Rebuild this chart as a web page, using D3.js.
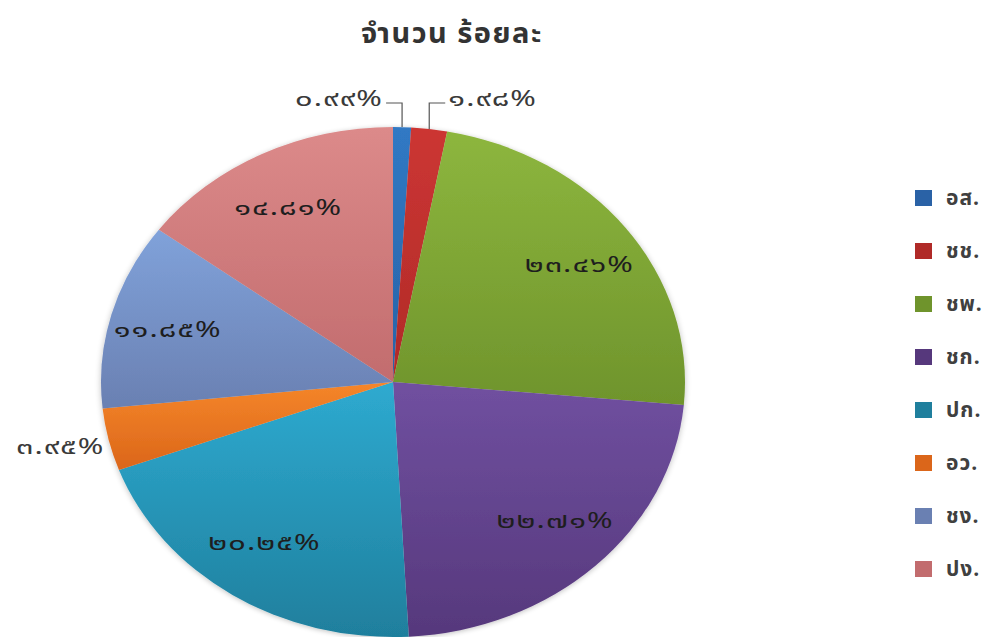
<!DOCTYPE html>
<html lang="th">
<head>
<meta charset="utf-8">
<script src="https://cdn.jsdelivr.net/npm/d3@7"></script>
<style>
  html, body { margin: 0; padding: 0; background: #ffffff; }
  svg { display: block; }
  text { font-family: "Noto Sans Thai", "Tahoma", "DejaVu Sans", "Noto Sans", sans-serif; }
</style>
</head>
<body>
<svg id="chart" width="993" height="637"></svg>
<script>
// Share of each group, in percent
const categories = ["อส.", "ชช.", "ชพ.", "ชก.", "ปก.", "อว.", "ชง.", "ปง."];
const values = [0.99, 1.98, 23.46, 22.71, 20.25, 3.95, 11.85, 14.81];
// Slice fill: light (top) and dark (bottom) stop of each gradient
const colorsTop = ["#3079c4", "#cc3633", "#8db63e", "#7050a0", "#2eaad0", "#f5862a", "#80a2da", "#dc8a8a"];
const colorsBottom = ["#2a62a6", "#b02a28", "#6f942c", "#56387c", "#1f7f9d", "#db661a", "#6a80b2", "#c26c6e"];
const titleText = "จำนวน ร้อยละ";

const thaiDigits = ["๐", "๑", "๒", "๓", "๔", "๕", "๖", "๗", "๘", "๙"];
const toThai = s => s.replace(/[0-9]/g, d => thaiDigits[+d]);
const fmt = v => toThai(v.toFixed(2)) + "%";

const svg = d3.select("#chart");
const cx = 393, cy = 382, rx = 292, ry = 255;
const yScale = ry / rx;
const widen = 1.4; // horizontal stretch of the value labels

const defs = svg.append("defs");
categories.forEach((c, i) => {
  const g = defs.append("linearGradient")
    .attr("id", "grad" + i)
    .attr("x1", 0).attr("y1", 0).attr("x2", 0).attr("y2", 1);
  g.append("stop").attr("offset", "0%").attr("stop-color", colorsTop[i]);
  g.append("stop").attr("offset", "100%").attr("stop-color", colorsBottom[i]);
});
const shadow = defs.append("filter").attr("id", "soft")
  .attr("x", "-10%").attr("y", "-10%").attr("width", "120%").attr("height", "120%");
shadow.append("feGaussianBlur").attr("in", "SourceAlpha").attr("stdDeviation", 3).attr("result", "b");
shadow.append("feOffset").attr("in", "b").attr("dx", 0).attr("dy", 1).attr("result", "o");
shadow.append("feComponentTransfer").attr("in", "o").attr("result", "s")
  .append("feFuncA").attr("type", "linear").attr("slope", 0.25);
const merge = shadow.append("feMerge");
merge.append("feMergeNode").attr("in", "s");
merge.append("feMergeNode").attr("in", "SourceGraphic");

// Title
svg.append("text")
  .attr("x", 452).attr("y", 43)
  .attr("text-anchor", "middle")
  .attr("font-size", 29).attr("font-weight", "bold")
  .attr("letter-spacing", 1.5)
  .attr("fill", "#333333")
  .text(titleText);

// Pie (drawn on a circle, squashed vertically into an ellipse)
const pie = d3.pie().sort(null).value(d => d);
const arcs = pie(values);
const arc = d3.arc().innerRadius(0).outerRadius(rx);

const pieG = svg.append("g")
  .attr("transform", `translate(${cx},${cy}) scale(1,${yScale})`)
  .attr("filter", "url(#soft)");
pieG.selectAll("path")
  .data(arcs)
  .join("path")
  .attr("d", arc)
  .attr("fill", (d, i) => `url(#grad${i})`);

// Point on the ellipse at a given angle and relative radii
const pt = (a, kx, ky) => [cx + kx * rx * Math.sin(a), cy - ky * ry * Math.cos(a)];
const mid = d => (d.startAngle + d.endAngle) / 2;

const labelG = svg.append("g").attr("font-size", 22).attr("letter-spacing", 0.8);

function valueLabel(x, y, anchor, fill, str) {
  labelG.append("text")
    .attr("transform", `translate(${x},${y}) scale(${widen},1)`)
    .attr("text-anchor", anchor)
    .attr("dominant-baseline", "central")
    .attr("fill", fill)
    .text(str);
}

arcs.forEach((d, i) => {
  const share = d.value;
  const m = mid(d);
  if (share >= 10) {
    const [x, y] = pt(m, 0.8, 0.76);
    valueLabel(x, y, "middle", "#1e1e1e", fmt(share));
  } else if (Math.sin(m) < -0.5) {
    // side label, just outside the rim
    const [x, y] = pt(m, 1.0, 1.0);
    valueLabel(x - 4, y + 8, "end", "#3a3a3a", fmt(share));
  } else {
    // thin slices at the top: elbow leader up to a label row
    const [x0, y0] = pt(m, 1.0, 1.0);
    const yRow = cy - ry - 24;
    const right = i > 0;
    const x2 = right ? x0 + 16 : x0 - 16;
    labelG.append("path")
      .attr("d", `M${x0},${y0}L${x0},${yRow}L${x2},${yRow}`)
      .attr("fill", "none")
      .attr("stroke", "#555555")
      .attr("stroke-width", 1.2);
    valueLabel(right ? x2 + 3 : x2 - 3, yRow - 4, right ? "start" : "end", "#3a3a3a", fmt(share));
  }
});

// Legend
const legend = svg.append("g").attr("transform", "translate(915,198)");
const rows = legend.selectAll("g")
  .data(categories)
  .join("g")
  .attr("transform", (d, i) => `translate(0,${i * 53})`);
rows.append("rect")
  .attr("x", 0).attr("y", -8).attr("width", 17).attr("height", 16)
  .attr("fill", (d, i) => colorsBottom[i]);
rows.append("text")
  .attr("x", 31).attr("y", 0)
  .attr("dominant-baseline", "central")
  .attr("font-size", 21)
  .attr("font-weight", "bold")
  .attr("letter-spacing", 1)
  .attr("fill", "#404040")
  .text(d => d);
</script>
</body>
</html>
